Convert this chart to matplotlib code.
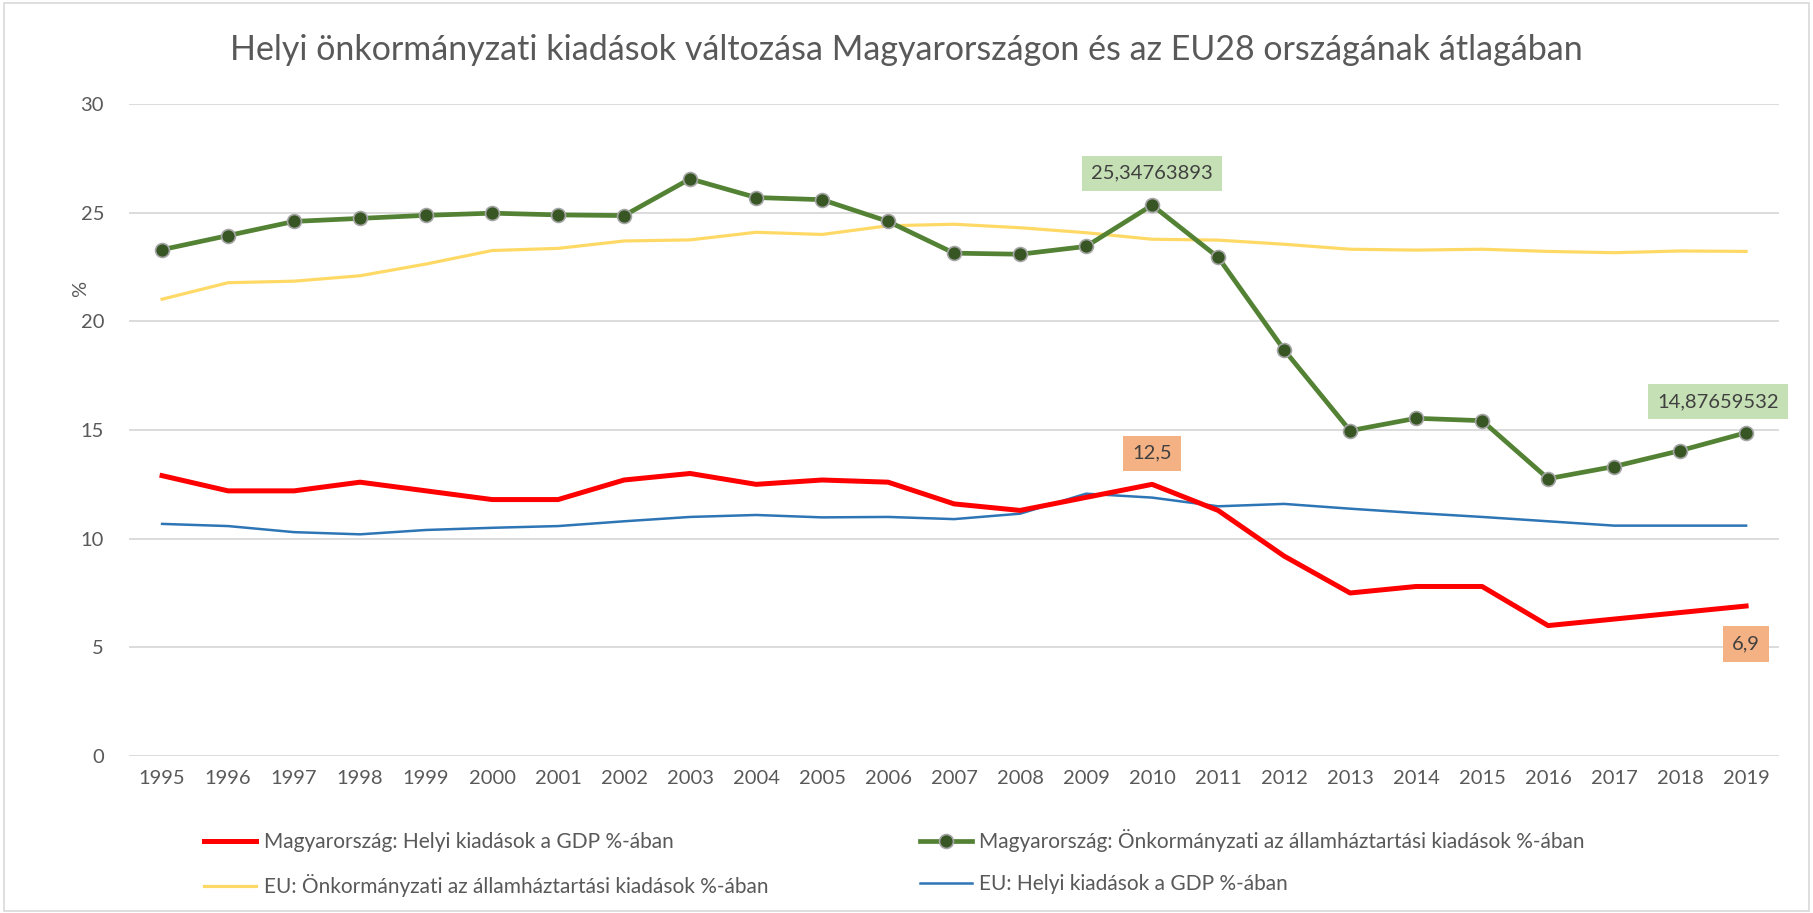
import matplotlib
matplotlib.use("Agg")
import matplotlib.pyplot as plt
from matplotlib.patches import Rectangle

plt.rcParams['font.family'] = ['Lato', 'DejaVu Sans']

years = list(range(1995, 2020))
hu_gdp = [12.9, 12.2, 12.2, 12.6, 12.2, 11.8, 11.8, 12.7, 13.0, 12.5, 12.7, 12.6,
          11.6, 11.3, 11.9, 12.5, 11.3, 9.2, 7.5, 7.8, 7.8, 6.0, 6.3, 6.6, 6.9]
hu_gov = [23.3, 23.95, 24.6, 24.74, 24.88, 24.98, 24.9, 24.87, 26.56, 25.7, 25.6, 24.6,
          23.14, 23.09, 23.45, 25.34763893, 22.95, 18.69, 14.97, 15.54, 15.43, 12.76,
          13.32, 14.05, 14.87659532]
eu_gov = [21.02, 21.78, 21.85, 22.1, 22.64, 23.26, 23.36, 23.7, 23.75, 24.1, 24.0, 24.4,
          24.47, 24.31, 24.08, 23.78, 23.74, 23.55, 23.32, 23.28, 23.32, 23.22, 23.16,
          23.24, 23.22]
eu_gdp = [10.68, 10.58, 10.3, 10.2, 10.4, 10.5, 10.58, 10.8, 11.0, 11.09, 10.98, 11.0,
          10.9, 11.15, 12.07, 11.89, 11.49, 11.6, 11.38, 11.18, 11.0, 10.8, 10.6, 10.6, 10.6]
labels = ["Magyarország: Helyi kiadások a GDP %-ában",
          "Magyarország: Önkormányzati az államháztartási kiadások %-ában",
          "EU: Önkormányzati az államháztartási kiadások %-ában",
          "EU: Helyi kiadások a GDP %-ában"]
title = "Helyi önkormányzati kiadások változása Magyarországon és az EU28 országának átlagában"

TXT = '#595959'
fig = plt.figure(figsize=(18.13, 9.13), dpi=100)
fig.patches.append(Rectangle((0.002, 0.002), 0.996, 0.995, transform=fig.transFigure,
                             fill=False, edgecolor='#D9D9D9', linewidth=1.2))
ax = fig.add_axes([0.0712, 0.172, 0.9101, 0.714])

l1, = ax.plot(years, hu_gdp, color='#FF0000', lw=3.6, solid_joinstyle='round', zorder=3)
l2, = ax.plot(years, hu_gov, color='#548235', lw=3.4, marker='o', ms=10,
              markerfacecolor='#375623', markeredgecolor='#A5A5A5', markeredgewidth=1.2, zorder=4)
l3, = ax.plot(years, eu_gov, color='#FFD966', lw=2.3, zorder=2)
l4, = ax.plot(years, eu_gdp, color='#2E75B6', lw=1.8, zorder=2)

ax.set_xlim(1994.5, 2019.5)
ax.set_ylim(0, 30)
ax.set_yticks(range(0, 31, 5))
ax.set_xticks(years)
ax.set_xticklabels([str(y) for y in years])
ax.grid(axis='y', color='#D9D9D9', lw=1.3)
ax.set_axisbelow(True)
for s in ax.spines.values():
    s.set_visible(False)
ax.tick_params(length=0, labelsize=14.5, colors=TXT, pad=10)
ax.tick_params(axis='y', pad=18)
ax.set_ylabel('%', fontsize=14.5, color=TXT)
ax.yaxis.set_label_coords(-0.024, 0.716)

fig.text(0.5, 0.945, title, ha='center', va='center', fontsize=24.5, color=TXT)

def label(x, y, txt, fc, dx, dy):
    ax.annotate(txt, (x, y), xytext=(dx, dy), textcoords='offset pixels',
                ha='center', va='center', fontsize=14.5, color='#404040',
                bbox=dict(boxstyle='square,pad=0.45', fc=fc, ec='none'), zorder=6)

i10 = years.index(2010)
label(2010, hu_gov[i10], "25,34763893", '#C5E0B4', 0, 32)
label(2019, hu_gov[-1], "14,87659532", '#C5E0B4', -28, 31)
label(2010, hu_gdp[i10], "12,5", '#F4B183', 0, 31)
label(2019, hu_gdp[-1], "6,9", '#F4B183', 0, -38)

fig.legend([l1, l3, l2, l4], [labels[0], labels[2], labels[1], labels[3]],
           loc='upper left', bbox_to_anchor=(0.108, 0.101),
           ncol=2, frameon=False, fontsize=15, labelcolor=TXT, handlelength=2.5,
           handletextpad=0.35, columnspacing=7.3, labelspacing=1.05, borderaxespad=0)

fig.savefig('out.png', dpi=100)
